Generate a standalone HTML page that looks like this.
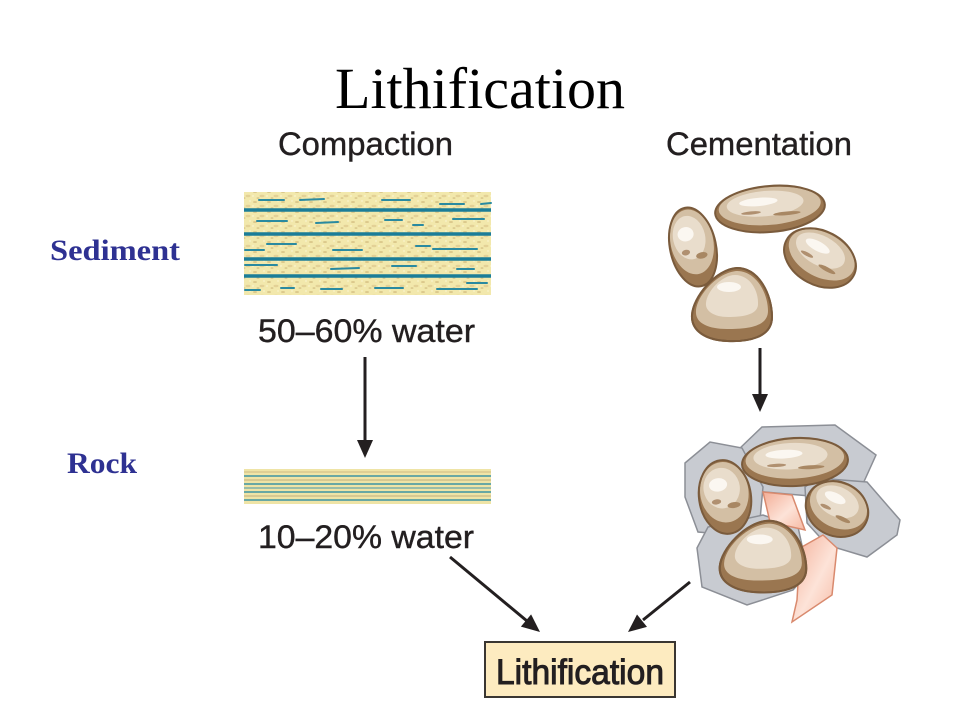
<!DOCTYPE html>
<html><head><meta charset="utf-8"><style>
html,body{margin:0;padding:0;background:#fff;}
svg{display:block;}
</style></head><body>
<svg width="960" height="720" viewBox="0 0 960 720" xmlns="http://www.w3.org/2000/svg">
<defs>
  <pattern id="sand" width="14" height="10" patternUnits="userSpaceOnUse">
    <rect width="14" height="10" fill="#f2e8ac"/>
    <ellipse cx="3" cy="2" rx="2" ry="1" fill="#dcc98c"/>
    <ellipse cx="10" cy="6" rx="2.5" ry="1.2" fill="#e3d196"/>
    <ellipse cx="6" cy="8" rx="1.5" ry="0.8" fill="#d6c386"/>
    <ellipse cx="12" cy="1" rx="1" ry="0.7" fill="#faf3cc"/>
    <ellipse cx="1" cy="6" rx="1.2" ry="0.7" fill="#faf3cc"/>
  </pattern>
  <linearGradient id="pink" x1="0" y1="0" x2="1" y2="1">
    <stop offset="0" stop-color="#f3ad96"/>
    <stop offset="0.55" stop-color="#fde3d8"/>
    <stop offset="1" stop-color="#f6b8a2"/>
  </linearGradient>
  <g id="peb">
    <ellipse cx="0" cy="0" rx="1" ry="1" fill="#9a7650"/>
    <ellipse cx="0" cy="-0.13" rx="0.93" ry="0.82" fill="#d3bfa4"/>
    <ellipse cx="-0.08" cy="-0.25" rx="0.7" ry="0.55" fill="#e9ddcc"/>
    <ellipse cx="-0.2" cy="-0.35" rx="0.35" ry="0.18" fill="#fbf7f1"/>
    <ellipse cx="0.3" cy="0.25" rx="0.25" ry="0.08" fill="#a88763"/>
    <ellipse cx="-0.35" cy="0.1" rx="0.18" ry="0.07" fill="#b09070"/>
  </g>
</defs>

<!-- Title -->
<text x="480" y="108" font-family="Liberation Serif, serif" font-size="58" text-anchor="middle" fill="#000" textLength="290" lengthAdjust="spacingAndGlyphs">Lithification</text>

<g font-family="Liberation Sans, sans-serif" font-size="32" fill="#231f20" stroke="#231f20" stroke-width="0.4">
<text x="278" y="155" textLength="175" lengthAdjust="spacingAndGlyphs">Compaction</text>
<text x="666" y="155" textLength="186" lengthAdjust="spacingAndGlyphs">Cementation</text>
<text x="258" y="342" textLength="217" lengthAdjust="spacingAndGlyphs">50–60% water</text>
<text x="258" y="548" textLength="216" lengthAdjust="spacingAndGlyphs">10–20% water</text>
</g>

<text x="50" y="260" font-family="Liberation Serif, serif" font-weight="bold" font-size="30" fill="#2e3192" textLength="130" lengthAdjust="spacingAndGlyphs">Sediment</text>
<text x="67" y="473" font-family="Liberation Serif, serif" font-weight="bold" font-size="30" fill="#2e3192" textLength="70" lengthAdjust="spacingAndGlyphs">Rock</text>

<!-- Compaction sediment strip -->
<rect x="244" y="192" width="247" height="103" fill="url(#sand)"/>
<g stroke="#1b7d98" stroke-width="3.5">
  <line x1="244" y1="210" x2="491" y2="210"/>
  <line x1="244" y1="234" x2="491" y2="234"/>
  <line x1="244" y1="259" x2="491" y2="259"/>
  <line x1="244" y1="276" x2="491" y2="276"/>
</g>
<g stroke="#2a8aa0" stroke-width="2" stroke-linecap="round">
  <line x1="259" y1="200" x2="284" y2="200"/>
  <line x1="300" y1="200" x2="324" y2="199"/>
  <line x1="382" y1="200" x2="410" y2="200"/>
  <line x1="440" y1="204" x2="464" y2="204"/>
  <line x1="481" y1="204" x2="491" y2="203"/>
  <line x1="257" y1="221" x2="287" y2="221"/>
  <line x1="316" y1="223" x2="338" y2="222"/>
  <line x1="385" y1="220" x2="402" y2="220"/>
  <line x1="453" y1="219" x2="484" y2="219"/>
  <line x1="413" y1="225" x2="423" y2="225"/>
  <line x1="267" y1="244" x2="296" y2="244"/>
  <line x1="333" y1="250" x2="362" y2="250"/>
  <line x1="416" y1="246" x2="430" y2="246"/>
  <line x1="433" y1="249" x2="477" y2="249"/>
  <line x1="245" y1="250" x2="264" y2="250"/>
  <line x1="245" y1="265" x2="277" y2="265"/>
  <line x1="331" y1="269" x2="359" y2="268"/>
  <line x1="457" y1="269" x2="474" y2="269"/>
  <line x1="392" y1="266" x2="416" y2="266"/>
  <line x1="245" y1="290" x2="260" y2="290"/>
  <line x1="281" y1="288" x2="294" y2="288"/>
  <line x1="321" y1="289" x2="342" y2="289"/>
  <line x1="375" y1="288" x2="403" y2="288"/>
  <line x1="437" y1="289" x2="477" y2="289"/>
  <line x1="467" y1="283" x2="487" y2="283"/>
</g>

<!-- Rock strip -->
<rect x="244" y="469" width="247" height="35" fill="#efe4a6"/>
<g stroke-width="1.6">
  <line x1="244" y1="472" x2="491" y2="472" stroke="#d8c88f"/>
  <line x1="244" y1="476" x2="491" y2="476" stroke="#3d93a3"/>
  <line x1="244" y1="480" x2="491" y2="480" stroke="#cfc08a"/>
  <line x1="244" y1="484" x2="491" y2="484" stroke="#3d93a3"/>
  <line x1="244" y1="488" x2="491" y2="488" stroke="#7fb0a8"/>
  <line x1="244" y1="492" x2="491" y2="492" stroke="#3d93a3"/>
  <line x1="244" y1="496" x2="491" y2="496" stroke="#d0c08a"/>
  <line x1="244" y1="500" x2="491" y2="500" stroke="#3d93a3"/>
</g>

<!-- Arrows -->
<g stroke="#231f20" stroke-width="3" fill="#231f20">
  <line x1="365" y1="357" x2="365" y2="442"/>
  <polygon points="357,440 373,440 365,458" stroke="none"/>
  <line x1="760" y1="348" x2="760" y2="396"/>
  <polygon points="752,394 768,394 760,412" stroke="none"/>
  <line x1="450" y1="557" x2="527" y2="621"/>
  <polygon points="520.9,626.6 531.1,614.4 540,632" stroke="none"/>
  <line x1="690" y1="582" x2="643" y2="620"/>
  <polygon points="647,626.9 637,614.5 628,632" stroke="none"/>
</g>

<!-- Final box -->
<rect x="485" y="642" width="190" height="55" fill="#fdebc0" stroke="#3a3632" stroke-width="2"/>
<text x="496" y="684" font-family="Liberation Sans, sans-serif" font-size="35" fill="#231f20" stroke="#231f20" stroke-width="1" textLength="168" lengthAdjust="spacingAndGlyphs">Lithification</text>

<!-- Cementation: loose pebbles -->
<g transform="translate(693,247) rotate(-12) scale(23,40)"><use href="#peb"/></g>
<ellipse cx="693" cy="247" rx="23" ry="40" transform="rotate(-12 693 247)" fill="none" stroke="#7a5b3c" stroke-width="2"/>

<g transform="translate(770,209) rotate(-5) scale(55,23)"><use href="#peb"/></g>
<ellipse cx="770" cy="209" rx="55" ry="23" transform="rotate(-5 770 209)" fill="none" stroke="#7a5b3c" stroke-width="2"/>

<g transform="translate(820,258) rotate(28) scale(38,27)"><use href="#peb"/></g>
<ellipse cx="820" cy="258" rx="38" ry="27" transform="rotate(28 820 258)" fill="none" stroke="#7a5b3c" stroke-width="2"/>

<g transform="translate(732,305)">
  <path d="M5,-37 C27,-37 40,-10 40,12 C40,33 15,37 -5,36 C-26,35 -41,26 -40,10 C-39,-8 -16,-36 5,-37 Z" fill="#9a7650" stroke="#7a5b3c" stroke-width="2"/>
  <path d="M5,-34 C24,-34 36,-12 36,6 C36,22 15,24 -5,24 C-24,24 -37,18 -36,6 C-35,-10 -14,-33 5,-34 Z" fill="#d3bfa4"/>
  <path d="M3,-30 C18,-30 27,-14 26,0 C25,10 10,12 -4,12 C-18,12 -27,6 -26,-2 C-25,-14 -10,-30 3,-30 Z" fill="#e9ddcc"/>
  <ellipse cx="-3" cy="-18" rx="12" ry="5" fill="#fbf7f1"/>
  <path d="M5,-37 C27,-37 40,-10 40,12 C40,33 15,37 -5,36 C-26,35 -41,26 -40,10 C-39,-8 -16,-36 5,-37 Z" fill="none" stroke="#7a5b3c" stroke-width="2"/>
</g>

<!-- Cemented rock -->
<g fill="#c8cbd1" stroke="#8c8f96" stroke-width="1.5">
  <polygon points="762,427 835,425 876,455 862,486 810,496 742,490 738,450"/>
  <polygon points="685,463 710,442 742,448 763,487 760,520 733,535 698,532 685,497"/>
  <polygon points="805,487 817,478 867,482 900,520 897,535 867,557 827,545 807,523"/>
  <polygon points="697,548 708,527 763,515 798,527 808,573 793,590 747,605 702,587"/>
</g>
<g fill="url(#pink)" stroke="#d98a6e" stroke-width="1.5">
  <polygon points="763,492 792,495 805,530 770,522"/>
  <polygon points="800,548 823,535 837,548 832,595 792,622 797,600"/>
</g>

<g transform="translate(795,462) rotate(-3) scale(53,24)"><use href="#peb"/></g>
<ellipse cx="795" cy="462" rx="53" ry="24" transform="rotate(-3 795 462)" fill="none" stroke="#7a5b3c" stroke-width="2"/>

<g transform="translate(725,497) rotate(-8) scale(26,37)"><use href="#peb"/></g>
<ellipse cx="725" cy="497" rx="26" ry="37" transform="rotate(-8 725 497)" fill="none" stroke="#7a5b3c" stroke-width="2"/>

<g transform="translate(837,509) rotate(25) scale(32,27)"><use href="#peb"/></g>
<ellipse cx="837" cy="509" rx="32" ry="27" transform="rotate(25 837 509)" fill="none" stroke="#7a5b3c" stroke-width="2"/>

<g transform="translate(763,557) scale(1.08,0.98)">
  <path d="M5,-37 C27,-37 40,-10 40,12 C40,33 15,37 -5,36 C-26,35 -41,26 -40,10 C-39,-8 -16,-36 5,-37 Z" fill="#9a7650" stroke="#7a5b3c" stroke-width="2"/>
  <path d="M5,-34 C24,-34 36,-12 36,6 C36,22 15,24 -5,24 C-24,24 -37,18 -36,6 C-35,-10 -14,-33 5,-34 Z" fill="#d3bfa4"/>
  <path d="M3,-30 C18,-30 27,-14 26,0 C25,10 10,12 -4,12 C-18,12 -27,6 -26,-2 C-25,-14 -10,-30 3,-30 Z" fill="#e9ddcc"/>
  <ellipse cx="-3" cy="-18" rx="12" ry="5" fill="#fbf7f1"/>
  <path d="M5,-37 C27,-37 40,-10 40,12 C40,33 15,37 -5,36 C-26,35 -41,26 -40,10 C-39,-8 -16,-36 5,-37 Z" fill="none" stroke="#7a5b3c" stroke-width="2"/>
</g>
</svg>
</body></html>
